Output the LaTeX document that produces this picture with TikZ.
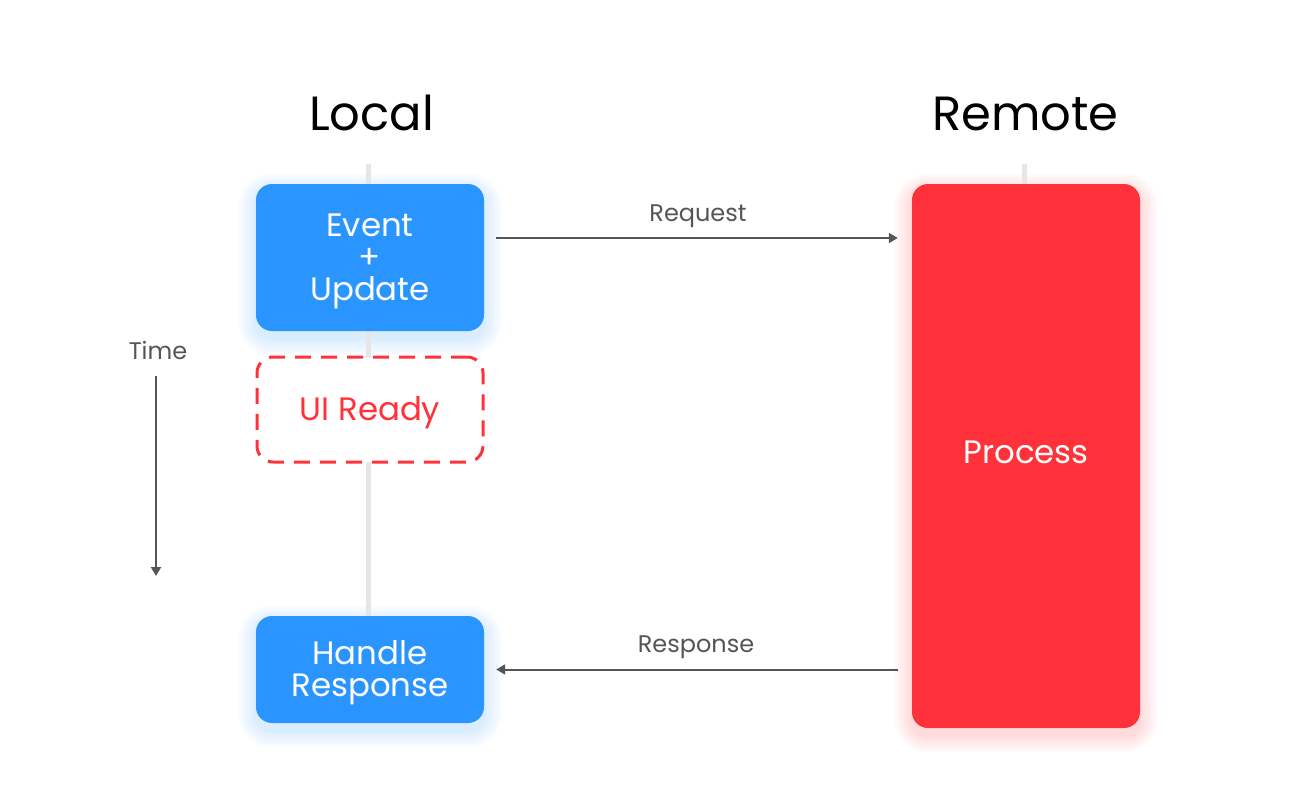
\documentclass[tikz,border=0pt]{standalone}
\usepackage{fontspec}
\setmainfont{Poppins}
\usetikzlibrary{arrows.meta,backgrounds}
\definecolor{bblue}{HTML}{2B95FF}
\definecolor{rred}{HTML}{FF313B}
\definecolor{lgray}{HTML}{E6E6E6}
\definecolor{dgray}{HTML}{555555}
\tikzset{
  title/.style={font=\fontsize{48}{52}\selectfont, text=black, inner sep=0pt, anchor=base},
  lbl/.style={font=\fontsize{24}{28}\selectfont, text=dgray, inner sep=0pt, anchor=base},
  boxtext/.style={font=\fontsize{32.4}{32}\selectfont, align=center, inner sep=0pt},
  bluebox/.style={fill=bblue, rounded corners=16pt, minimum width=228pt, inner sep=0pt},
  readybox/.style={draw=rred, line width=3pt, dash pattern=on 16pt off 10pt, fill=white, rounded corners=16pt, minimum width=226pt, minimum height=105pt, inner sep=0pt},
  procbox/.style={fill=rred, rounded corners=16pt, minimum width=228pt, minimum height=544pt, inner sep=0pt},
  lifeline/.style={draw=lgray, line width=5pt},
  arr/.style={draw=dgray, line width=2pt, -{Triangle[length=9pt,width=10pt]}},
}
\newcommand\myglow[2]{%
  \foreach \e in {2,5,8,11,14,17}{%
    \pgfmathsetmacro\rr{16+\e}%
    \fill[#2, fill opacity=0.032, rounded corners=\rr pt]
      ([shift={(-\e,\e+7)}]#1.south west) rectangle ([shift={(\e,-\e+7)}]#1.north east);
  }}
\begin{document}
\begin{tikzpicture}[x=1pt,y=-1pt]
\useasboundingbox (0,0) rectangle (1300,808);
% lifelines
\coordinate (l0) at (368,164);
\coordinate (l1) at (368,616);
\coordinate (r0) at (1024,164);
\coordinate (r1) at (1024,190);
\draw[lifeline] (l0) -- (l1);
\draw[lifeline] (r0) -- (r1);
% titles
\node[title] (local) at (371.5,130) {Local};
\node[title] (remote) at (1025.5,130) {Remote};
% boxes
\node[bluebox, minimum height=147pt] (event) at (370,257.5) {};
\node[boxtext, text=white] (eventtxt) at (370,261.5) {Event\\+\\Update};
\node[readybox] (ready) at (370,409.5) {};
\node[boxtext, text=rred, anchor=base] (readytxt) at (370,420.5) {UI Ready};
\node[bluebox, minimum height=107pt] (handle) at (370,669.5) {};
\node[boxtext, text=white] (handletxt) at (370,672.5) {Handle\\Response};
\node[procbox] (process) at (1026,456) {};
\node[boxtext, text=white, anchor=base] (proctxt) at (1026,463) {Process};
% glows
\begin{scope}[on background layer]
  \myglow{event}{bblue}
  \myglow{handle}{bblue}
  \myglow{process}{rred}
\end{scope}
% request / response
\coordinate (rq) at ([shift={(12,-19.5)}]event.east);
\coordinate (rqe) at ([xshift=-14pt]rq -| process.west);
\draw[arr] (rq) -- (rqe);
\node[lbl] (reqlbl) at (698,221) {Request};
\coordinate (rs) at ([xshift=12pt]handle.east);
\coordinate (rse) at ([xshift=-14pt]rs -| process.west);
\draw[arr] (rse) -- (rs);
\node[lbl] (reslbl) at (696,652) {Response};
% time
\node[lbl] (time) at (158,359) {Time};
\coordinate (t0) at (156,376);
\coordinate (t1) at (156,576);
\draw[arr] (t0) -- (t1);
\end{tikzpicture}
\end{document}
